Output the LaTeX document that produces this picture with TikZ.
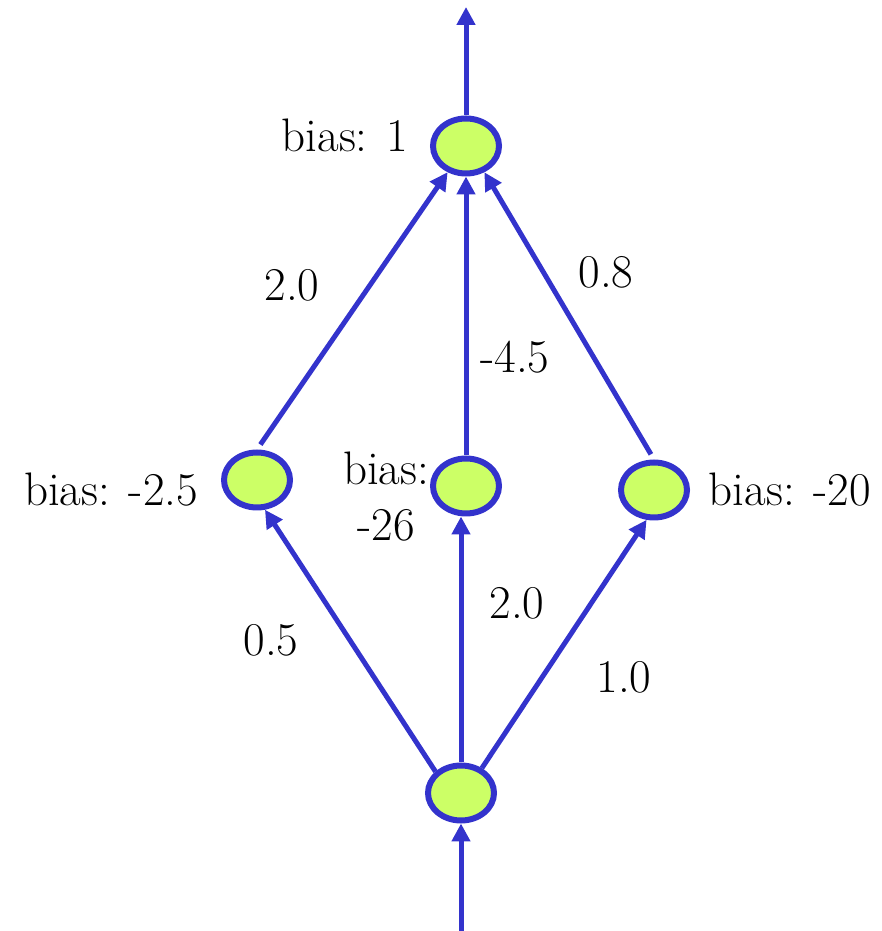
\documentclass[tikz,border=0pt]{standalone}
\usetikzlibrary{shapes.geometric,arrows.meta}
\definecolor{edgeblue}{RGB}{51,51,204}
\definecolor{nodegreen}{RGB}{204,255,102}
\begin{document}
\begin{tikzpicture}[x=1pt,y=1pt,
  neuron/.style={ellipse,draw=edgeblue,fill=nodegreen,line width=6pt,minimum width=66pt,minimum height=55pt,inner sep=0pt},
  conn/.style={draw=edgeblue,line width=5pt,-{Triangle[length=18pt,width=18pt]}},
  lbl/.style={inner sep=0pt,font=\rmfamily\fontsize{47}{52}\selectfont}]
\useasboundingbox (0,0) rectangle (881,931);
\node[neuron] (T) at (466,785) {};
\node[neuron] (L) at (257,451) {};
\node[neuron] (M) at (466,445) {};
\node[neuron] (R) at (654,441) {};
\node[neuron] (B) at (461,138) {};
\coordinate (out) at (466,924);
\coordinate (in) at (461,0);
\draw[conn] (T.north) -- (out);
\draw[conn] (in) -- (B.south);
\draw[conn,shorten <=6pt] (L.north) -- (T.235);
\draw[conn] (M.north) -- (T.south);
\draw[conn,shorten <=6pt] (R.north) -- (T.305);
\draw[conn] (B.140) -- (L.285);
\draw[conn] (B.north) -- (B.north |- M.south);
\draw[conn] (B.50) -- (R.256);
\node[lbl] (tT) at (345,796) {bias: 1};
\node[lbl] (tL) at (111,441) {bias: -2.5};
\node[lbl] (tM1) at (386,463) {bias:};
\node[lbl] (tM2) at (386,406) {-26};
\node[lbl] (tR) at (790,441) {bias: -20};
\node[lbl] (w1) at (292,646) {2.0};
\node[lbl] (w2) at (515,574) {-4.5};
\node[lbl] (w3) at (606,659) {0.8};
\node[lbl] (w4) at (271,291) {0.5};
\node[lbl] (w5) at (517,328) {2.0};
\node[lbl] (w6) at (624,254) {1.0};
\end{tikzpicture}
\end{document}
